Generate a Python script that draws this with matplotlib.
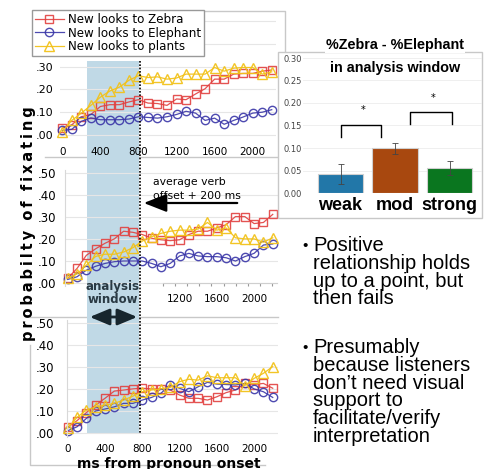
import numpy as np
import matplotlib
matplotlib.use("Agg")
import matplotlib.pyplot as plt
from matplotlib.patches import Rectangle, FancyArrowPatch
from matplotlib.lines import Line2D

W, H = 485, 469

# time bins (ms from pronoun onset)
times = [0, 100, 200, 300, 400, 500, 600, 700, 800, 900, 1000, 1100,
         1200, 1300, 1400, 1500, 1600, 1700, 1800, 1900, 2000, 2100, 2200]

# top panel
p1_zebra = [0.03, 0.045, 0.08, 0.09, 0.125, 0.133, 0.133, 0.145, 0.155, 0.14, 0.138, 0.13,
            0.158, 0.155, 0.18, 0.203, 0.245, 0.245, 0.267, 0.27, 0.27, 0.28, 0.285]
p1_elephant = [0.02, 0.025, 0.06, 0.075, 0.067, 0.067, 0.067, 0.07, 0.08, 0.077, 0.074, 0.08,
               0.09, 0.104, 0.096, 0.064, 0.074, 0.047, 0.064, 0.079, 0.096, 0.1, 0.111]
p1_plants = [0.015, 0.064, 0.096, 0.13, 0.166, 0.193, 0.21, 0.24, 0.26, 0.252, 0.255, 0.245,
             0.25, 0.267, 0.267, 0.267, 0.296, 0.28, 0.293, 0.296, 0.296, 0.267, 0.277]
# middle panel
p2_zebra = [0.02, 0.065, 0.125, 0.155, 0.18, 0.2, 0.235, 0.23, 0.22, 0.203, 0.196, 0.192,
            0.196, 0.22, 0.235, 0.235, 0.25, 0.265, 0.302, 0.302, 0.27, 0.275, 0.312]
p2_elephant = [0.015, 0.027, 0.057, 0.075, 0.088, 0.096, 0.099, 0.099, 0.099, 0.088, 0.073, 0.088,
               0.122, 0.134, 0.122, 0.119, 0.119, 0.114, 0.099, 0.119, 0.134, 0.172, 0.177]
p2_plants = [0.02, 0.04, 0.08, 0.12, 0.13, 0.13, 0.14, 0.16, 0.19, 0.21, 0.225, 0.235,
             0.24, 0.24, 0.245, 0.275, 0.24, 0.25, 0.205, 0.2, 0.2, 0.185, 0.205]
# bottom panel
p3_zebra = [0.025, 0.055, 0.092, 0.126, 0.157, 0.19, 0.195, 0.2, 0.203, 0.2, 0.2, 0.195,
            0.172, 0.157, 0.157, 0.149, 0.164, 0.183, 0.195, 0.225, 0.22, 0.225, 0.203]
p3_elephant = [0.009, 0.027, 0.065, 0.099, 0.108, 0.118, 0.134, 0.134, 0.149, 0.161, 0.18, 0.218,
               0.203, 0.187, 0.21, 0.23, 0.222, 0.22, 0.218, 0.225, 0.2, 0.187, 0.161]
p3_plants = [0.02, 0.07, 0.103, 0.118, 0.126, 0.134, 0.149, 0.167, 0.187, 0.195, 0.2, 0.207,
             0.233, 0.244, 0.24, 0.26, 0.251, 0.251, 0.251, 0.215, 0.248, 0.271, 0.302]

series_labels = ["New looks to Zebra", "New looks to Elephant", "New looks to plants"]

# bar chart: %Zebra - %Elephant in analysis window
groups = ["weak", "mod", "strong"]
diffs = [0.042, 0.099, 0.056]
errs = [0.022, 0.013, 0.016]
# bracket: x from, x to, top, ends, star x, star y
brackets = [(0.01, 0.74, 0.151, 0.124, 0.42, 0.184), (1.28, 2.04, 0.18, 0.153, 1.7, 0.211)]

bullet1 = "Positive\nrelationship holds\nup to a point, but\nthen fails"
bullet2 = ("Presumably\nbecause listeners\ndon\u2019t need visual\nsupport to\n"
           "facilitate/verify\ninterpretation")

red, blue, yellow = "#e2403f", "#3a36a8", "#f2c21a"
grid_c = "#e6e6e6"
frame_c = "#c8c8c8"


def add_ax(l, t, r, b):
    return fig.add_axes([l / W, 1 - b / H, (r - l) / W, (b - t) / H])


def fig_line(xs, ys, **kw):
    fig.add_artist(Line2D([x / W for x in xs], [1 - y / H for y in ys],
                          transform=fig.transFigure, **kw))


fig = plt.figure(figsize=(W / 100, H / 100), dpi=100)

# frames of the pasted panels
fig_line([205, 285, 285], [11, 11, 52], color=frame_c, lw=1, zorder=-2)
fig_line([45, 278], [157, 157], color=frame_c, lw=1, zorder=-2)
fig_line([30, 278], [317, 317], color=frame_c, lw=1, zorder=-2)
fig_line([30, 30, 265], [345, 465, 465], color=frame_c, lw=1, zorder=-2)

# analysis window band (spans all three panels)
fig.add_artist(Rectangle((87 / W, 1 - 433 / H), (139 - 87) / W, (433 - 61) / H,
                         transform=fig.transFigure, facecolor="#c0d9e6",
                         edgecolor="none", zorder=-1))


def draw_lines(ax, zeb, ele, pla):
    hs = []
    hs += ax.plot(times, zeb, color=red, lw=0.9, marker="s", ms=6, mfc="none",
                  mec=red, mew=1, clip_on=False, alpha=0.9)
    hs += ax.plot(times, ele, color=blue, lw=0.9, marker="o", ms=6, mfc="none",
                  mec=blue, mew=1, clip_on=False, alpha=0.9)
    hs += ax.plot(times, pla, color=yellow, lw=0.9, marker="^", ms=6.5, mfc="none",
                  mec=yellow, mew=1, clip_on=False, alpha=0.95)
    return hs


def style_panel(ax):
    ax.set_facecolor("none")
    for s in ax.spines.values():
        s.set_visible(False)
    ax.grid(axis="y", color=grid_c, lw=0.8)
    ax.set_axisbelow(True)
    ax.yaxis.set_major_formatter(plt.FuncFormatter(lambda v, p: ("%.2f" % v)[1:]))


# panel 1
ax1 = add_ax(60, 11, 276, 140)
handles = draw_lines(ax1, p1_zebra, p1_elephant, p1_plants)
style_panel(ax1)
ax1.set_xlim((60 - 62.3) / 0.0952, (276 - 62.3) / 0.0952)
ax1.set_ylim((135 - 140) / 228, (135 - 11) / 228)
ax1.set_yticks([0, 0.1, 0.2, 0.3, 0.4, 0.5])
ax1.set_yticklabels([".00", ".10", ".20", ".30", "", ""])
ax1.set_xticks([0, 400, 800, 1200, 1600, 2000])
ax1.tick_params(length=0, labelsize=7.5, pad=5)
ax1.tick_params(axis="y", labelsize=8, pad=5)

fig.legend(handles, series_labels, loc="upper left",
           bbox_to_anchor=(32 / W, 1 - 10 / H), bbox_transform=fig.transFigure,
           fontsize=8.6, frameon=True, fancybox=False, edgecolor="#999999",
           borderpad=0.25, labelspacing=0.05, handlelength=2.4, handletextpad=0.35,
           borderaxespad=0, framealpha=1)

# panel 2
ax2 = add_ax(65, 170, 278, 286)
draw_lines(ax2, p2_zebra, p2_elephant, p2_plants)
style_panel(ax2)
ax2.spines["left"].set_visible(True)
ax2.spines["left"].set_color("#d8d8d8")
ax2.spines["bottom"].set_visible(True)
ax2.spines["bottom"].set_color("#cfcfcf")
ax2.spines["bottom"].set_position(("data", 0))
ax2.spines["bottom"].set_bounds(1025, 2250)
ax2.set_xlim((65 - 67.7) / 0.0932, (278 - 67.7) / 0.0932)
ax2.set_ylim((282.7 - 286) / 219, (282.7 - 170) / 219)
ax2.set_yticks([0, 0.1, 0.2, 0.3, 0.4, 0.5])
ax2.set_xticks(np.linspace(1025, 2190, 10))
ax2.set_xticklabels([])
ax2.set_xticks([1200, 1600, 2000], minor=True)
ax2.set_xticklabels(["1200", "1600", "2000"], minor=True)
ax2.tick_params(axis="x", which="major", length=2.5, color="#999999", direction="out")
ax2.tick_params(axis="x", which="minor", length=0, labelsize=7.5, pad=8)
ax2.tick_params(axis="y", length=0, labelsize=8.5, pad=6)

# panel 3
ax3 = add_ax(67, 320, 278, 437)
draw_lines(ax3, p3_zebra, p3_elephant, p3_plants)
style_panel(ax3)
ax3.spines["left"].set_visible(True)
ax3.spines["left"].set_color("#d8d8d8")
ax3.set_xlim((67 - 67.7) / 0.0932, (278 - 67.7) / 0.0932)
ax3.set_ylim((432.7 - 437) / 219, (432.7 - 320) / 219)
ax3.set_yticks([0, 0.1, 0.2, 0.3, 0.4, 0.5])
ax3.set_xticks([0, 400, 800, 1200, 1600, 2000])
ax3.tick_params(length=0, labelsize=7.5, pad=5)
ax3.tick_params(axis="y", labelsize=8.5, pad=9)
fig.text(169 / W, 1 - 457 / H, "ms from pronoun onset", ha="center", va="top",
         fontsize=10, fontweight="bold")

# analysis window end
fig_line([140, 140], [61, 433], color="black", lw=1.2, ls=(0, (1, 1)), zorder=5)

# annotations
fig.text(153 / W, 1 - 182 / H, "average verb", fontsize=7.8, va="center", ha="left")
fig.text(153 / W, 1 - 196 / H, "offset + 200 ms", fontsize=7.8, va="center", ha="left")
fig.add_artist(FancyArrowPatch(
    (240 / W, 1 - 203 / H), (141 / W, 1 - 203 / H), transform=fig.transFigure,
    arrowstyle="-|>,head_length=1.4,head_width=0.55", mutation_scale=10,
    lw=1.6, color="black", zorder=6))
fig.text(113 / W, 1 - 293 / H, "analysis\nwindow", ha="center", va="center",
         fontsize=8.5, fontweight="bold", color="#2a3a44", linespacing=0.95)
fig.add_artist(FancyArrowPatch(
    (87 / W, 1 - 317 / H), (140 / W, 1 - 317 / H), transform=fig.transFigure,
    arrowstyle="<|-|>,head_length=1.2,head_width=0.5", mutation_scale=10,
    lw=2, color="#17262e", zorder=6))

# y label shared by the three panels
fig.text(29 / W, 1 - 224 / H,
         "p\u2009r\u2009o\u2009b\u2009a\u2009b\u2009i\u2009l\u2009t\u2009y  o\u2009f  "
         "f\u2009i\u2009x\u2009a\u2009t\u2009i\u2009n\u2009g",
         rotation=90, ha="center", va="center", fontsize=10.5, fontweight="bold",
         zorder=7)

# bar chart box
fig.add_artist(Rectangle((278 / W, 1 - 218 / H), (482 - 278) / W, (218 - 52) / H,
                         transform=fig.transFigure, facecolor="white",
                         edgecolor=frame_c, lw=1, zorder=2))
axb = add_ax(303, 58, 482, 193)
axb.set_zorder(3)
axb.set_facecolor("none")
xb = np.arange(len(groups))
axb.bar(xb, diffs, width=0.83, color=["#2277a8", "#a8480f", "#0a761f"],
        edgecolor="#d0d0d0", lw=0.8, zorder=2)
axb.errorbar(xb, diffs, yerr=errs, fmt="none", ecolor="#444444", elinewidth=0.6,
             capsize=2, capthick=0.6, zorder=3)
for x1, x2, top, low, xs, ys in brackets:
    axb.plot([x1, x1, x2, x2], [low, top, top, low], color="black", lw=1,
             solid_joinstyle="round", zorder=3)
    axb.text(xs, ys, "*", ha="center", va="center", fontsize=7)
axb.set_xlim(-0.688, 2.596)
axb.set_ylim(0, 0.30)
axb.set_yticks([0, 0.05, 0.10, 0.15, 0.20, 0.25, 0.30])
axb.yaxis.set_major_formatter(plt.FuncFormatter(lambda v, p: "%.2f" % v))
axb.set_xticks(xb)
axb.set_xticklabels(groups, fontsize=13, fontweight="bold", family="Liberation Sans")
axb.tick_params(axis="y", length=0, labelsize=6, pad=1, labelcolor="#444444")
axb.tick_params(axis="x", length=0, pad=3)
axb.grid(axis="y", color="#ececec", lw=0.6)
axb.set_axisbelow(True)
for s in axb.spines.values():
    s.set_visible(False)
fig.text(395 / W, 1 - 45 / H, "%Zebra - %Elephant", ha="center", va="center",
         fontsize=10.4, fontweight="bold", family="Liberation Sans", zorder=8,
         bbox=dict(facecolor="white", edgecolor="none", pad=1))
fig.text(395 / W, 1 - 68 / H, "in analysis window", ha="center", va="center",
         fontsize=10.4, fontweight="bold", family="Liberation Sans", zorder=8)

# bullet points
for txt, ytop in [(bullet1, 236), (bullet2, 338)]:
    fig.text(302 / W, 1 - (ytop + 3) / H, "\u2022", fontsize=11, va="top", ha="left",
             family="Liberation Sans")
    fig.text(313 / W, 1 - ytop / H, txt, fontsize=14.5, va="top", ha="left",
             family="Liberation Sans", linespacing=0.92)

fig.savefig("out.png", dpi=100)
